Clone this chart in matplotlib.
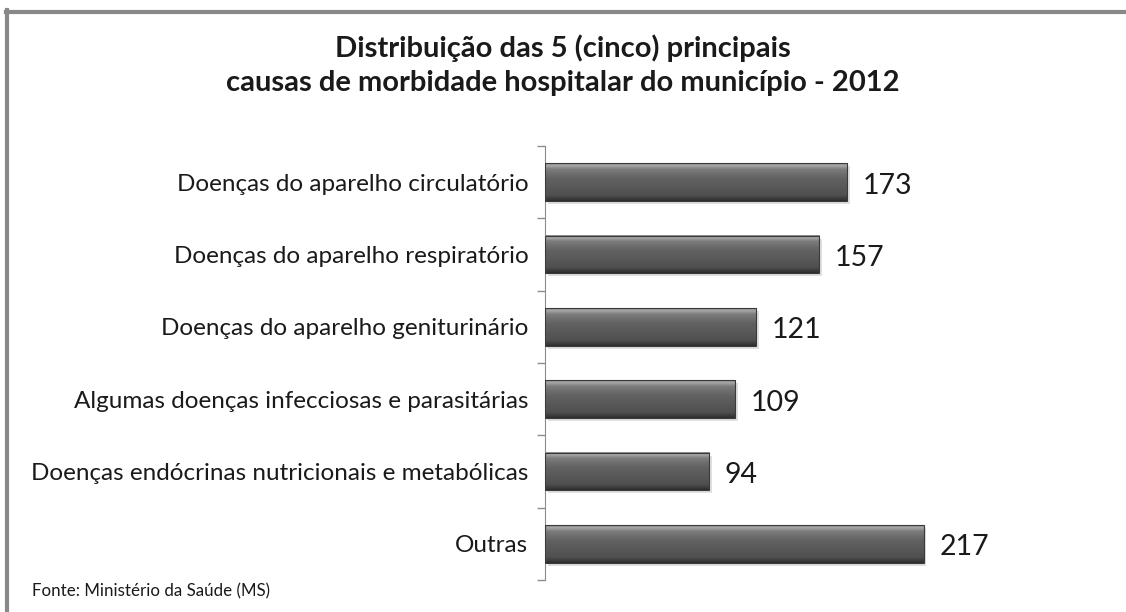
import numpy as np
import matplotlib.pyplot as plt
from matplotlib.colors import LinearSegmentedColormap
from matplotlib.lines import Line2D

categories = [
    "Doenças do aparelho circulatório",
    "Doenças do aparelho respiratório",
    "Doenças do aparelho geniturinário",
    "Algumas doenças infecciosas e parasitárias",
    "Doenças endócrinas nutricionais e metabólicas",
    "Outras",
]
values = [173, 157, 121, 109, 94, 217]

title = "Distribuição das 5 (cinco) principais\ncausas de morbidade hospitalar do município - 2012"
source = "Fonte: Ministério da Saúde (MS)"

plt.rcParams['font.family'] = ['Lato', 'DejaVu Sans']

fig = plt.figure(figsize=(11.26, 6.12), dpi=100)
ax = fig.add_axes([0.484, 0.0523, 0.507, 0.709])

# vertical shading that imitates the bevelled bars
bar_cmap = LinearSegmentedColormap.from_list("bevel", [
    (0.00, "#8a8a8a"), (0.06, "#a8a8a8"), (0.16, "#7c7c7c"),
    (0.40, "#626262"), (0.85, "#505050"), (0.93, "#3e3e3e"), (1.00, "#2e2e2e")])
grad = np.linspace(0, 1, 100).reshape(-1, 1)
h = 0.52

for i, v in enumerate(values):
    # soft shadow
    ax.barh(i + 0.04, v, height=h, left=1.5, color="#000000", alpha=0.12, zorder=1)
    ax.imshow(grad, extent=[0, v, i + h / 2, i - h / 2], aspect="auto",
              cmap=bar_cmap, vmin=0, vmax=1, zorder=2)
    ax.barh(i, v, height=h, fill=False, edgecolor="#3a3a3a", linewidth=0.8, zorder=3)
    ax.text(v + 9, i + 0.05, str(v), va="center", ha="left", fontsize=20.5, color="#1a1a1a")

ax.set_xlim(0, 327)
ax.set_ylim(len(values) - 0.5, -0.5)
ax.set_yticks(range(len(values)))
ax.set_yticklabels(categories, fontsize=17.5, color="#1a1a1a")
ax.set_yticks(np.arange(-0.5, len(values)), minor=True)
ax.tick_params(axis="y", which="major", length=0, pad=12)
ax.tick_params(axis="y", which="minor", length=6, color="#8c8c8c", width=1)
ax.set_xticks([])
for side in ["top", "right", "bottom"]:
    ax.spines[side].set_visible(False)
ax.spines["left"].set_color("#8c8c8c")

fig.text(0.5, 0.894, title, ha="center", va="center", fontsize=21,
         fontweight="bold", color="#1a1a1a", linespacing=1.38)
fig.text(0.028, 0.033, source, ha="left", va="center", fontsize=12.2, color="#1a1a1a")

# outer frame (top and left edges visible in the crop)
fig.add_artist(Line2D([0.0066, 0.0066], [0, 0.983], transform=fig.transFigure,
                      color="#888888", linewidth=3))
fig.add_artist(Line2D([0.0053, 1.0], [0.981, 0.981], transform=fig.transFigure,
                      color="#888888", linewidth=3))

fig.savefig("out.png", dpi=100)
